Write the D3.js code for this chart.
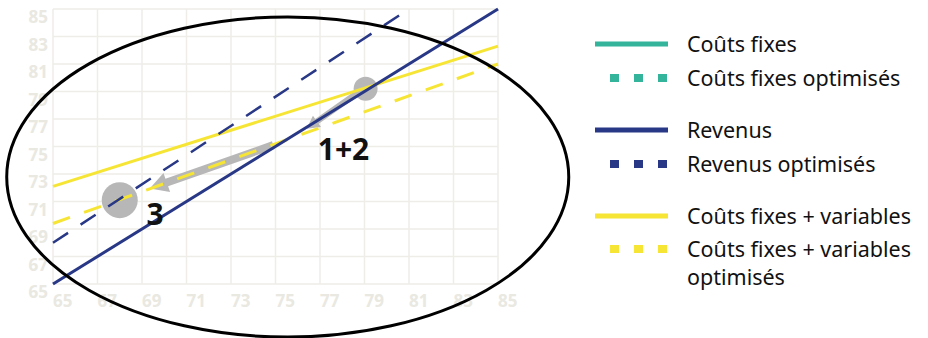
<!DOCTYPE html>
<html>
<head>
<meta charset="utf-8">
<script src="https://cdn.jsdelivr.net/npm/d3@7"></script>
<style>
  body { margin: 0; background: #fff; }
  svg { display: block; }
</style>
</head>
<body>
<div id="chart"></div>
<script>
// chart values
var xTicks = [65, 67, 69, 71, 73, 75, 77, 79, 81, 83, 85];
var yTicks = [65, 67, 69, 71, 73, 75, 77, 79, 81, 83, 85];

var revenus = [[65, 65], [85, 85]];
var revenusOpt = [[65, 68], [81, 85]];
var coutsVar = [[65, 72.1], [85, 82.3]];
var coutsVarOpt = [[65, 69.4], [85, 81]];

// annotations (in data units)
var points = [{x: 79.05, y: 79.2, r: 12}, {x: 68.0, y: 71.1, r: 18}];
var arrows = [
  {from: [78.6, 78.8], to: [76.4, 76.3], shaft: 6, head: 14},
  {from: [74.9, 75.1], to: [69.35, 71.95], shaft: 8, head: 20}
];
var labels = [{text: "1+2", x: 76.9, y: 74.0}, {text: "3", x: 69.2, y: 69.3}];
var ring = {cx: 75.55, cy: 72.78, rx: 12.63, ry: 11.64};

var legendNames = ["Coûts fixes", "Coûts fixes optimisés", "Revenus", "Revenus optimisés",
  "Coûts fixes + variables", "Coûts fixes + variables|optimisés"];
var legendColors = ["#33b49b", "#33b49b", "#283886", "#283886", "#f6e534", "#f6e534"];
var legendDashed = [false, true, false, true, false, true];

// dimensions
var width = 928, height = 338;
var plot = {left: 53, right: 498, top: 9, bottom: 284};

var svg = d3.select("#chart")
  .append("svg")
  .attr("width", width)
  .attr("height", height);

var x = d3.scaleLinear().domain([65, 85]).range([plot.left, plot.right]);
var y = d3.scaleLinear().domain([65, 85]).range([plot.bottom, plot.top]);

var gridColor = "#eeede8";
var tickColor = "#e9e8e1";

// grid
var grid = svg.append("g");
grid.selectAll(".vline").data(xTicks).enter().append("line")
  .attr("x1", d => x(d)).attr("x2", d => x(d))
  .attr("y1", plot.top).attr("y2", plot.bottom)
  .attr("stroke", gridColor).attr("stroke-width", 1.5);
grid.selectAll(".hline").data(yTicks).enter().append("line")
  .attr("x1", plot.left).attr("x2", plot.right)
  .attr("y1", d => y(d)).attr("y2", d => y(d))
  .attr("stroke", gridColor).attr("stroke-width", 1.5);

// tick labels
svg.append("g").selectAll("text").data(yTicks).enter().append("text")
  .attr("x", plot.left - 5)
  .attr("y", d => y(d) + 14)
  .attr("text-anchor", "end")
  .attr("font-family", "Open Sans")
  .attr("font-weight", 700)
  .attr("font-size", "17px")
  .attr("fill", tickColor)
  .text(d => d);

svg.append("g").selectAll("text").data(xTicks).enter().append("text")
  .attr("x", d => x(d))
  .attr("y", plot.bottom + 23)
  .attr("text-anchor", "start")
  .attr("font-family", "Open Sans")
  .attr("font-weight", 700)
  .attr("font-size", "17px")
  .attr("fill", tickColor)
  .text(d => d);

// gray circles
svg.append("g").selectAll("circle").data(points).enter().append("circle")
  .attr("cx", d => x(d.x)).attr("cy", d => y(d.y)).attr("r", d => d.r)
  .attr("fill", "#b7b7b7");

// gray arrows
function arrowPath(a) {
  var x0 = x(a.from[0]), y0 = y(a.from[1]), x1 = x(a.to[0]), y1 = y(a.to[1]);
  var dx = x1 - x0, dy = y1 - y0, len = Math.sqrt(dx * dx + dy * dy);
  var ux = dx / len, uy = dy / len, nx = -uy, ny = ux;
  var hl = a.head * 0.9, sw = a.shaft / 2, hw = a.head / 2;
  var bx = x1 - ux * hl, by = y1 - uy * hl;
  var pts = [
    [x0 + nx * sw, y0 + ny * sw], [bx + nx * sw, by + ny * sw], [bx + nx * hw, by + ny * hw],
    [x1, y1],
    [bx - nx * hw, by - ny * hw], [bx - nx * sw, by - ny * sw], [x0 - nx * sw, y0 - ny * sw]
  ];
  return "M" + pts.map(p => p.join(",")).join("L") + "Z";
}
svg.append("g").selectAll("path").data(arrows).enter().append("path")
  .attr("d", arrowPath)
  .attr("fill", "#b7b7b7");

// lines
var line = d3.line().x(d => x(d[0])).y(d => y(d[1]));
var series = [
  {data: coutsVar, color: "#f6e534", dash: null, w: 3},
  {data: coutsVarOpt, color: "#f6e534", dash: "18,15", w: 3},
  {data: revenusOpt, color: "#283886", dash: "18,15", w: 2.5},
  {data: revenus, color: "#283886", dash: null, w: 3}
];
svg.append("g").selectAll("path").data(series).enter().append("path")
  .attr("d", d => line(d.data))
  .attr("fill", "none")
  .attr("stroke", d => d.color)
  .attr("stroke-width", d => d.w)
  .attr("stroke-dasharray", d => d.dash);

// big ellipse
svg.append("ellipse")
  .attr("cx", x(ring.cx)).attr("cy", y(ring.cy))
  .attr("rx", x(ring.cx + ring.rx) - x(ring.cx))
  .attr("ry", y(ring.cy - ring.ry) - y(ring.cy))
  .attr("fill", "none")
  .attr("stroke", "#000")
  .attr("stroke-width", 3);

// step labels
svg.append("g").selectAll("text").data(labels).enter().append("text")
  .attr("x", d => x(d.x)).attr("y", d => y(d.y))
  .attr("font-family", "Noto Sans")
  .attr("font-weight", 700)
  .attr("font-size", "30px")
  .attr("fill", "#111")
  .text(d => d.text);

// legend
var legendY = [44, 78, 130, 164, 216, 249];
var legend = svg.append("g");
legendNames.forEach(function(name, i) {
  var ly = legendY[i];
  if (legendDashed[i]) {
    legend.append("line")
      .attr("x1", 610).attr("x2", 667).attr("y1", ly).attr("y2", ly)
      .attr("stroke", legendColors[i]).attr("stroke-width", 8)
      .attr("stroke-dasharray", "9,15");
  } else {
    legend.append("line")
      .attr("x1", 595).attr("x2", 668).attr("y1", ly).attr("y2", ly)
      .attr("stroke", legendColors[i]).attr("stroke-width", 5);
  }
  // wrapped names get one text per line
  name.split("|").forEach(function(part, j) {
    legend.append("text")
      .attr("x", 687).attr("y", ly + 8 + j * 28)
      .attr("font-family", "Noto Sans")
      .attr("font-size", "21.5px")
      .attr("fill", "#111")
      .text(part);
  });
});
</script>
</body>
</html>
